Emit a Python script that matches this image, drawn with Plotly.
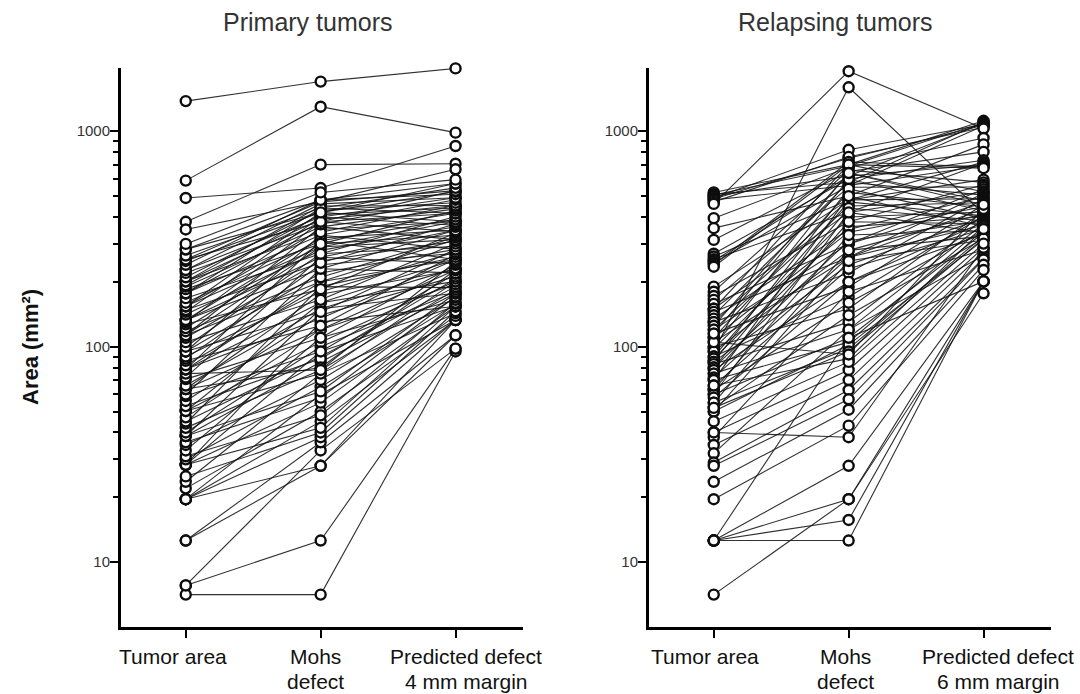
import plotly.graph_objects as go

# Categories on the x axis (shared by both panels)
categories_primary = ["Tumor area", "Mohs<br>defect", "Predicted defect<br>4 mm margin"]
categories_relapse = ["Tumor area", "Mohs<br>defect", "Predicted defect<br>6 mm margin"]

# Primary tumors: area (mm²) per patient at each stage
primary_tumor = [1380, 590, 490, 380, 350, 7.07, 7.8, 7.8, 12.6, 12.6,
                 19.6, 19.6, 19.6, 19.6, 22, 23.6, 25, 28.3, 28.3, 28.3, 28.3, 30, 31, 33, 35, 36,
                 38.5, 38.5, 38.5, 40, 42, 44, 45, 47, 50.3, 50.3, 50.3, 53,
                 56, 59, 60, 63.6, 63.6, 63.6, 66, 70.7, 72, 75, 78.5, 78.5, 78.5, 78.5, 82, 86, 88, 90,
                 95, 95, 95, 100, 105, 110, 113, 113, 113, 118, 122, 127, 130, 133, 133, 133, 141, 145,
                 148, 154, 154, 154, 160, 168, 177, 177, 177, 185, 190, 193, 201, 201, 201, 210, 220,
                 227, 227, 240, 250, 254, 254, 265, 283, 283, 300]
primary_mohs = [1700, 1300, 545, 700, 470, 7.07, 12.6, 33, 28, 36,
                28, 45, 60, 38, 50, 75, 40, 55, 95, 42, 130, 65, 48, 110, 70, 58,
                85, 150, 62, 100, 78, 190, 90, 120, 75, 160, 105, 88,
                140, 95, 230, 120, 80, 175, 150, 110, 260, 78, 200, 135, 310, 160, 190, 125, 240, 180,
                220, 145, 330, 270, 165, 250, 200, 360, 290, 210, 300, 185, 380, 260, 320, 230, 280, 400,
                245, 350, 290, 420, 310, 270, 380, 330, 440, 300, 360, 410, 450, 340, 390, 430, 370,
                460, 400, 480, 420, 470, 380, 440, 480, 420, 520]
primary_pred = [1957, 985, 854, 707, 666, 95, 98, 98, 113, 113,
                133, 133, 133, 133, 139, 143, 146, 154, 154, 154, 154, 158, 160, 165, 169, 171,
                177, 177, 177, 180, 184, 188, 190, 195, 201, 201, 201, 207,
                212, 218, 220, 227, 227, 227, 231, 240, 243, 248, 254, 254, 254, 254, 261, 268, 271, 275,
                283, 283, 283, 292, 301, 309, 314, 314, 314, 322, 329, 337, 342, 347, 347, 347, 360, 366,
                371, 380, 380, 380, 390, 402, 416, 416, 416, 428, 436, 440, 452, 452, 452, 466, 481,
                491, 491, 510, 524, 530, 530, 546, 572, 572, 596]

# Relapsing tumors: area (mm²) per patient at each stage
relapse_tumor = [520, 510, 505, 500, 490, 485, 480, 470, 460, 395, 355, 313, 270, 262, 255, 250,
                 245, 240, 235, 190, 180, 172, 165, 158,
                 150, 150, 145, 140, 135, 130, 130, 125, 120, 120, 115, 110, 110, 105, 100,
                 100, 98, 95, 95, 90, 90, 88, 85, 85, 83, 80, 80, 78, 75, 75, 72, 70, 70, 66, 63,
                 63, 60, 60, 58, 55, 55, 52, 50, 50, 40, 38, 35, 32, 29, 28, 23.6, 19.6,
                 12.6, 12.6, 12.6, 12.6, 12.6, 7.07, 40, 52, 66, 45, 105, 115]
relapse_mohs = [700, 580, 690, 620, 820, 750, 560, 760, 1900, 680, 500, 650, 600, 480, 420, 620,
                560, 720, 700, 480, 660, 380, 550, 300,
                700, 420, 260, 580, 350, 480, 220, 640, 300, 450, 190, 520, 340, 260, 600,
                150, 400, 1600, 280, 470, 170, 360, 240, 540, 130, 310, 440, 200, 120, 380, 260, 500, 105, 230, 330,
                160, 110, 420, 200, 280, 98, 140, 250, 102, 78, 180, 70, 120, 63, 57, 51, 43,
                12.6, 15.7, 19.6, 28, 110, 19.6, 38, 95, 88, 85, 92, 640]
relapse_pred = [1118, 1103, 1096, 1089, 1074, 1066, 1059, 1044, 1029, 931, 869, 802, 733, 719, 708, 699,
                691, 683, 674, 596, 579, 564, 551, 538,
                524, 524, 514, 505, 495, 486, 486, 476, 466, 466, 456, 446, 446, 436, 426,
                426, 422, 415, 415, 405, 405, 401, 394, 394, 390, 383, 383, 379, 372, 372, 366, 361, 361, 352, 345,
                345, 338, 338, 333, 326, 326, 318, 313, 313, 288, 282, 274, 265, 257, 254, 240, 227,
                201, 201, 201, 201, 201, 177, 288, 318, 352, 301, 436, 456]

# Y axis ticks
major_ticks = [10, 100, 1000]
major_labels = ["10", "100", "1000"]
minor_ticks = [20, 30, 40, 50, 60, 70, 80, 90, 200, 300, 400, 500, 600, 700, 800, 900]

FONT = "Liberation Sans, Arial, Helvetica, sans-serif"
LINE_COLOR = "rgba(20,20,20,0.88)"
MARKER_EDGE = "#0d0d0d"

W, H = 1080, 694
fig = go.Figure()


def add_panel(tumor, mohs, pred, xref, yref):
    xs, ys = [], []
    for t, m, p in zip(tumor, mohs, pred):
        xs += [0, 1, 2, None]
        ys += [t, m, p, None]
    fig.add_trace(go.Scatter(
        x=xs, y=ys, mode="lines", xaxis=xref, yaxis=yref,
        line=dict(color=LINE_COLOR, width=1.1), hoverinfo="skip", showlegend=False,
        cliponaxis=False,
    ))
    mx, my = [], []
    for col, vals in enumerate((tumor, mohs, pred)):
        mx += [col] * len(vals)
        my += list(vals)
    fig.add_trace(go.Scatter(
        x=mx, y=my, mode="markers", xaxis=xref, yaxis=yref,
        marker=dict(symbol="circle", size=10, color="white",
                    line=dict(color=MARKER_EDGE, width=2.4)),
        showlegend=False, cliponaxis=False,
    ))


add_panel(primary_tumor, primary_mohs, primary_pred, "x", "y")
add_panel(relapse_tumor, relapse_mohs, relapse_pred, "x2", "y2")

y_dom = [1 - 627 / H, 1 - 68 / H]

xaxis_common = dict(
    range=[-0.48, 2.5], tickmode="array", tickvals=[0, 1, 2], showticklabels=False,
    showline=True, linecolor="black", linewidth=3,
    ticks="outside", ticklen=8, tickwidth=2, tickcolor="black",
    showgrid=False, zeroline=False, fixedrange=True,
)
yaxis_common = dict(
    type="log", range=[0.699, 3.2935],
    tickmode="array", tickvals=major_ticks, ticktext=major_labels,
    showline=True, linecolor="black", linewidth=3,
    ticks="outside", ticklen=8, tickwidth=2, tickcolor="black",
    minor=dict(tickmode="array", tickvals=minor_ticks, ticks="outside",
               ticklen=5, tickwidth=2, tickcolor="black", showgrid=False),
    showgrid=False, zeroline=False, ticklabelstandoff=-3,
    tickfont=dict(family=FONT, size=15, color="#333333"),
)

# Category labels under each panel (pixel centres of the text blocks)
label_x_primary = [173, 315, 466]
label_x_relapse = [705, 845, 998]
label_line_y = [656, 681]  # pixel centres of the first and second text line

annotations = [
    dict(text="Primary tumors", x=307 / W, y=1 - 22 / H, xref="paper", yref="paper",
         showarrow=False, xanchor="center", yanchor="middle",
         font=dict(family=FONT, size=25, color="#333333")),
    dict(text="Relapsing tumors", x=835 / W, y=1 - 22 / H, xref="paper", yref="paper",
         showarrow=False, xanchor="center", yanchor="middle",
         font=dict(family=FONT, size=25, color="#333333")),
    dict(text="<b>Area (mm²)</b>", x=30 / W, y=1 - 347 / H, xref="paper", yref="paper",
         showarrow=False, xanchor="center", yanchor="middle", textangle=-90,
         font=dict(family=FONT, size=22, color="#111111")),
]
for labels, xs in ((categories_primary, label_x_primary), (categories_relapse, label_x_relapse)):
    for lab, px in zip(labels, xs):
        for line_text, py in zip(lab.split("<br>"), label_line_y):
            annotations.append(dict(
                text=line_text, x=px / W, y=1 - py / H, xref="paper", yref="paper",
                showarrow=False, xanchor="center", yanchor="middle",
                font=dict(family=FONT, size=21, color="#111111"),
            ))

fig.update_layout(
    width=W, height=H,
    margin=dict(l=0, r=0, t=0, b=0),
    paper_bgcolor="white", plot_bgcolor="white",
    xaxis=dict(domain=[121 / W, 523 / W], anchor="y", **xaxis_common),
    yaxis=dict(domain=y_dom, anchor="x", **yaxis_common),
    xaxis2=dict(domain=[649 / W, 1051 / W], anchor="y2", **xaxis_common),
    yaxis2=dict(domain=y_dom, anchor="x2", **yaxis_common),
    annotations=annotations,
)

fig.write_html("out.html")
